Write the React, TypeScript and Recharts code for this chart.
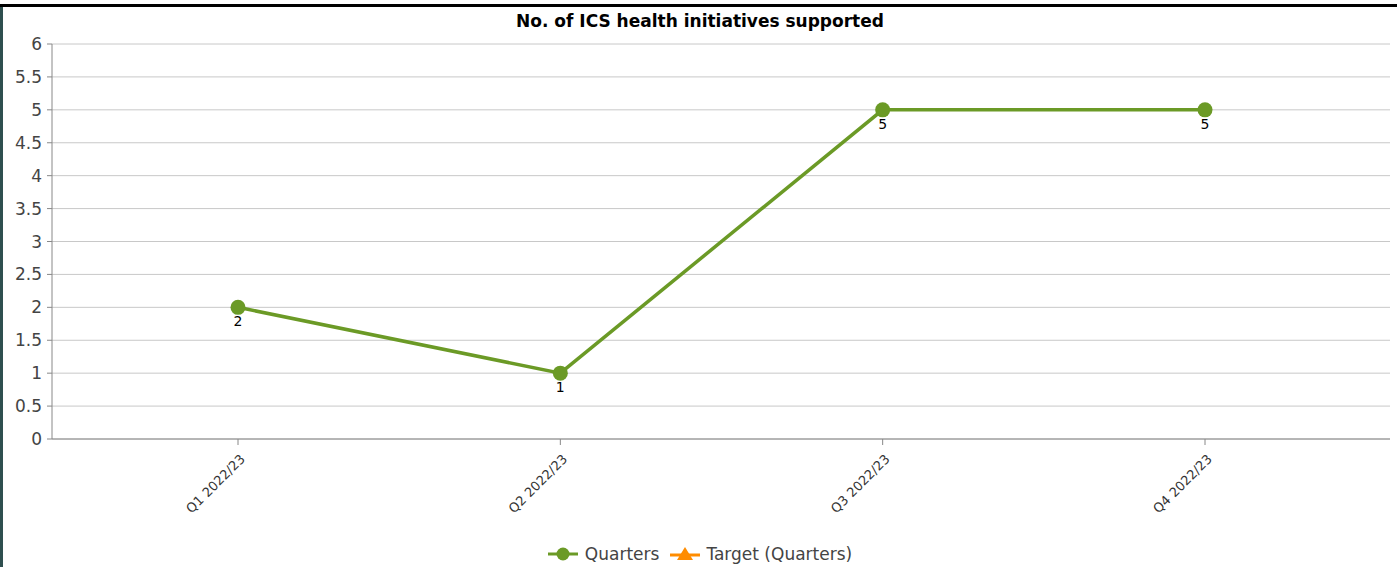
import { LineChart, Line, XAxis, YAxis, CartesianGrid, Legend, LabelList } from 'recharts';

const quarters = ['Q1 2022/23', 'Q2 2022/23', 'Q3 2022/23', 'Q4 2022/23'];
const quarterValues = [2, 1, 5, 5];
const targetValues: (number | null)[] = [null, null, null, null];
const yTicks = [0, 0.5, 1, 1.5, 2, 2.5, 3, 3.5, 4, 4.5, 5, 5.5, 6];

const data = quarters.map((q, i) => ({ name: q, quarters: quarterValues[i], target: targetValues[i] }));

const GREEN = '#6b9a26';
const ORANGE = '#ff8c00';
const FONT = '"DejaVu Sans", sans-serif';

function XTick(props: any) {
  const { x, y, payload } = props;
  return (
    <g transform={`translate(${x + 5},${y + 10})`}>
      <text textAnchor="end" transform="rotate(-45)" fontSize={13} fill="#333" fontFamily={FONT} dy={4}>
        {payload.value}
      </text>
    </g>
  );
}

function LegendContent() {
  return (
    <div style={{ display: 'flex', justifyContent: 'center', alignItems: 'center', fontFamily: FONT, fontSize: 17, color: '#444' }}>
      <svg width={30} height={16} style={{ marginRight: 7 }}>
        <line x1={0} y1={8} x2={30} y2={8} stroke={GREEN} strokeWidth={3} />
        <circle cx={15} cy={8} r={6.5} fill={GREEN} />
      </svg>
      <span style={{ marginRight: 11 }}>Quarters</span>
      <svg width={30} height={16} style={{ marginRight: 6 }}>
        <line x1={0} y1={9} x2={30} y2={9} stroke={ORANGE} strokeWidth={3} />
        <polygon points="15,1 23,14 7,14" fill={ORANGE} />
      </svg>
      <span>Target (Quarters)</span>
    </div>
  );
}

export default function App() {
  return (
    <div style={{ position: 'absolute', left: 0, top: 0, width: 1397, height: 567, background: '#fff', overflow: 'hidden' }}>
      {/* frame borders from the original screenshot */}
      <div style={{ position: 'absolute', left: 0, top: 4, width: 1397, height: 3, background: '#000' }} />
      <div style={{ position: 'absolute', left: 0, top: 7, width: 3, height: 560, background: '#2f4f4f' }} />
      <div
        style={{
          position: 'absolute', left: 0, top: 11, width: 1400, textAlign: 'center',
          fontFamily: FONT, fontWeight: 'bold', fontSize: 17, color: '#000',
        }}
      >
        No. of ICS health initiatives supported
      </div>
      <LineChart width={1397} height={567} data={data} margin={{ top: 44, right: 7, left: 0, bottom: 0 }}>
        <CartesianGrid horizontal vertical={false} stroke="#c8c8c8" />
        <XAxis
          dataKey="name"
          padding={{ left: 186, right: 185 }}
          height={128}
          stroke="#888"
          tickSize={6}
          tick={<XTick />}
          interval={0}
        />
        <YAxis
          domain={[0, 6]}
          ticks={yTicks}
          width={52}
          stroke="#888"
          tickSize={5}
          tickMargin={5}
          tick={{ fontSize: 17, fill: '#444', fontFamily: FONT }}
          interval={0}
        />
        <Legend verticalAlign="middle" content={<LegendContent />} wrapperStyle={{ top: 544, left: 0, width: 1400 }} />
        <Line
          dataKey="quarters"
          name="Quarters"
          stroke={GREEN}
          strokeWidth={3.5}
          dot={{ r: 7.5, fill: GREEN, stroke: GREEN, strokeWidth: 0 }}
          isAnimationActive={false}
        >
          <LabelList dataKey="quarters" position="bottom" offset={9} fontSize={14} fill="#000" fontFamily={FONT} />
        </Line>
        <Line
          dataKey="target"
          name="Target (Quarters)"
          stroke={ORANGE}
          strokeWidth={3}
          isAnimationActive={false}
        />
      </LineChart>
    </div>
  );
}
